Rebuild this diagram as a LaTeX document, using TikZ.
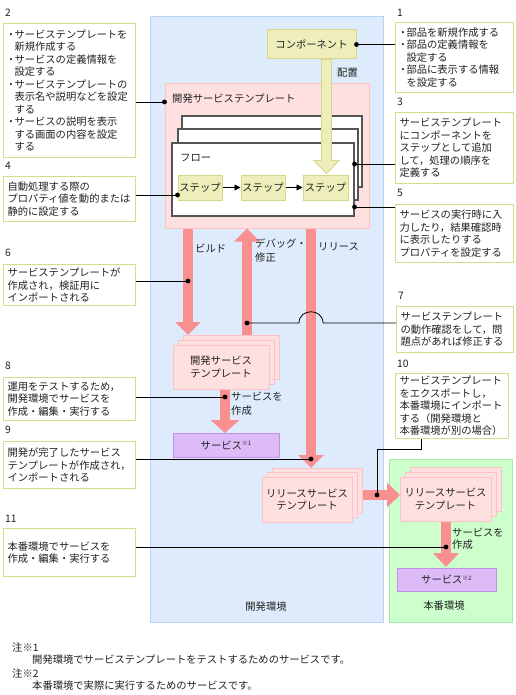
\documentclass[tikz,border=0pt]{standalone}
\usepackage{fontspec}
\setmainfont{Noto Sans CJK JP}
\usetikzlibrary{arrows.meta,calc}
\definecolor{bgblue}{HTML}{DDEBFC}
\definecolor{bgblueb}{HTML}{B6D3F3}
\definecolor{bggreen}{HTML}{CCFFCC}
\definecolor{bggreenb}{HTML}{A6EBA6}
\definecolor{pinkf}{HTML}{FFE0E0}
\definecolor{pinkb}{HTML}{FFC2C2}
\definecolor{redarr}{HTML}{FA8F8F}
\definecolor{yelf}{HTML}{EEEEBB}
\definecolor{yelb}{HTML}{D6D68C}
\definecolor{lilf}{HTML}{DDBBF8}
\definecolor{lilb}{HTML}{C490E6}
\definecolor{noteb}{HTML}{DADA8A}
\definecolor{frameb}{HTML}{555555}
\definecolor{txt}{HTML}{222222}
\newcommand\bul{\makebox[7pt][c]{・}}
\newcommand\ind{\hspace*{7pt}}
\newcommand\kome[1]{\raisebox{3.5pt}{\fontsize{6}{6}\selectfont ※#1}}
\tikzset{
  every node/.style={font=\fontsize{10.3}{12.5}\selectfont, text=txt, inner sep=0pt},
  envbox/.style={line width=1pt},
  note/.style={draw=noteb, fill=white, line width=1pt, align=left, anchor=north west, inner xsep=4pt, inner ysep=2pt},
  num/.style={anchor=west},
  yelbox/.style={draw=yelb, fill=yelf, line width=1pt},
  tmpl/.style={draw=pinkb, fill=pinkf, line width=1pt, align=center},
  frame/.style={draw=frameb, fill=white, line width=1.1pt},
  svc/.style={draw=lilb, fill=lilf, line width=1pt},
  redarrow/.style={draw=redarr, line width=10pt, -{Triangle[width=25pt,length=13pt]}},
  conn/.style={draw=black, line width=0.8pt},
  steparr/.style={draw=black, line width=0.8pt, -{Triangle[width=6pt,length=6pt]}},
}
\begin{document}
\begin{tikzpicture}[x=1pt,y=-1pt]
\path[fill=white,use as bounding box] (0,0) rectangle (515,695);
% environments
\node[envbox, draw=bgblueb, fill=bgblue, minimum width=233pt, minimum height=605pt] (devenv) at (266.5,319.5) {};
\node[envbox, draw=bggreenb, fill=bggreen, minimum width=123pt, minimum height=163pt] (prodenv) at (450.5,540.5) {};
\node (devlbl) at (266,607) {開発環境};
\node (prodlbl) at (444,606) {本番環境};
% component
\node[yelbox, minimum width=89pt, minimum height=29pt] (comp) at (311.5,44.5) {コンポーネント};
% dev service template box
\node[draw=pinkb, fill=pinkf, line width=1pt, minimum width=204pt, minimum height=144pt] (devbox) at (267,156) {};
\node[anchor=west] (devboxlbl) at (172,99) {開発サービステンプレート};
% flow frames
\node[frame, minimum width=180pt, minimum height=71pt] (fr3) at (272,151.5) {};
\node[frame, minimum width=180pt, minimum height=71pt] (fr2) at (268,164.5) {};
\node[frame, minimum width=182pt, minimum height=73pt] (fr1) at (263,179.5) {};
\node[anchor=west] (flowlbl) at (180,158) {フロー};
\node[yelbox, minimum width=44pt, minimum height=25pt] (s1) at (200,187.5) {ステップ};
\node[yelbox, minimum width=44pt, minimum height=25pt] (s2) at (263,187.5) {ステップ};
\node[yelbox, minimum width=45pt, minimum height=25pt] (s3) at (325.5,187.5) {ステップ};
\draw[steparr] (s1) -- (s2);
\draw[steparr] (s2) -- (s3);
% placement arrow
\coordinate (XA) at (326.5,0);
\filldraw[draw=yelb, fill=yelf, line width=0.9pt] (comp.south -| XA) ++(-5,0) -- ++(0,101) -- ++(-7.5,0) -- ++(12.5,13) -- ++(12.5,-13) -- ++(-7.5,0) -- ++(0,-101) -- cycle;
\node[anchor=west] (haichi) at (337,73) {配置};
% x / y guide coordinates
\coordinate (XB) at (188,0);
\coordinate (XD) at (247,0);
\coordinate (XR) at (311,0);
\coordinate (XS) at (225,0);
\coordinate (XG) at (446,0);
\coordinate (X10) at (377,0);
\coordinate (X10b) at (421,0);
\coordinate (YH) at (0,495);
\coordinate (Y2) at (0,102);
\coordinate (Y3) at (0,164);
\coordinate (Y4) at (0,195);
\coordinate (Y5) at (0,207);
\coordinate (Y6) at (0,281);
\coordinate (Y7) at (0,323);
\coordinate (Y8) at (0,397);
\coordinate (Y9) at (0,459);
\coordinate (Y10) at (0,449);
\coordinate (Y11) at (0,547);
% stacks (positions)
\coordinate (dsc) at (221,367);
\coordinate (rsc) at (307,499.5);
\coordinate (gsc) at (445.5,499);
% red arrows
\draw[redarrow] (devbox.south -| XB) -- (XB |- 0,335);
\draw[redarrow] (XD |- 0,337) -- (devbox.south -| XD);
\draw[redarrow] (devbox.south -| XR) -- (XR |- 0,468);
\draw[redarrow, -{Triangle[width=28pt,length=13pt]}] (XS |- 0,389) -- (XS |- 0,433);
\draw[redarrow, -{Triangle[width=24pt,length=13pt]}] (352,0 |- YH) -- (400,0 |- YH);
\draw[redarrow, -{Triangle[width=25pt,length=14pt]}] (XG |- 0,521) -- (XG |- 0,567);
% labels on arrows
\node[anchor=west] (lbuild) at (195,248) {ビルド};
\node[anchor=north west, align=left, font=\fontsize{10.3}{14}\selectfont] (ldebug) at (255,239) {デバッグ・\\修正};
\node[anchor=west] (lrel) at (318,247) {リリース};
% dev stack
\node[tmpl, minimum width=96pt, minimum height=44pt] (ds3) at ($(dsc)+(10,-10)$) {};
\node[tmpl, minimum width=96pt, minimum height=44pt] (ds2) at ($(dsc)+(5,-5)$) {};
\node[tmpl, minimum width=96pt, minimum height=44pt] (ds) at (dsc) {開発サービス\\テンプレート};
% release stack (dev env)
\node[tmpl, minimum width=90pt, minimum height=45pt] (rs3) at ($(rsc)+(10,-9)$) {};
\node[tmpl, minimum width=90pt, minimum height=45pt] (rs2) at ($(rsc)+(5,-4.5)$) {};
\node[tmpl, minimum width=90pt, minimum height=45pt] (rs) at (rsc) {リリースサービス\\テンプレート};
% release stack (prod env)
\node[tmpl, minimum width=91pt, minimum height=44pt] (gs3) at ($(gsc)+(10,-10)$) {};
\node[tmpl, minimum width=91pt, minimum height=44pt] (gs2) at ($(gsc)+(5,-5)$) {};
\node[tmpl, minimum width=91pt, minimum height=44pt] (gs) at (gsc) {リリースサービス\\テンプレート};
% services
\node[svc, minimum width=106pt, minimum height=24pt] (sv1) at (226,445) {サービス\kome{1}};
\node[svc, minimum width=99pt, minimum height=23pt] (sv2) at (446.5,579.5) {サービス\kome{2}};
\node[anchor=north west, align=left, font=\fontsize{10.3}{14}\selectfont] (mk1) at (231,392) {サービスを\\作成};
\node[anchor=north west, align=left, font=\fontsize{10.3}{12.5}\selectfont] (mk2) at (452,527.5) {サービスを\\作成};
% notes
\node[num] (k1) at (397,13) {1};
\node[note, text width=110pt, minimum height=70pt] (n1) at (395,22) {\bul 部品を新規作成する\\\bul 部品の定義情報を\\\ind 設定する\\\bul 部品に表示する情報\\\ind を設定する};
\node[num] (k2) at (5,13) {2};
\node[note, text width=124pt, minimum height=134pt] (n2) at (3,23) {\bul サービステンプレートを\\\ind 新規作成する\\\bul サービスの定義情報を\\\ind 設定する\\\bul サービステンプレートの\\\ind 表示名や説明などを設定\\\ind する\\\bul サービスの説明を表示\\\ind する画面の内容を設定\\\ind する};
\node[num] (k3) at (397,102) {3};
\node[note, text width=110pt, minimum height=71pt] (n3) at (395,112) {サービステンプレート\\にコンポーネントを\\ステップとして追加\\して，処理の順序を\\定義する};
\node[num] (k4) at (5,166) {4};
\node[note, text width=124pt, minimum height=45pt] (n4) at (3,176) {自動処理する際の\\プロパティ値を動的または\\静的に設定する};
\node[num] (k5) at (397,193) {5};
\node[note, text width=110pt, minimum height=58pt] (n5) at (395,204) {サービスの実行時に入\\力したり，結果確認時\\に表示したりする\\プロパティを設定する};
\node[num] (k6) at (5,253) {6};
\node[note, text width=124pt, minimum height=41pt] (n6) at (3,264) {サービステンプレートが\\作成され，検証用に\\インポートされる};
\node[num] (k7) at (398,296) {7};
\node[note, text width=109pt, minimum height=46pt] (n7) at (396,306) {サービステンプレート\\の動作確認をして，問\\題点があれば修正する};
\node[num] (k8) at (5,366) {8};
\node[note, text width=124pt, minimum height=43pt] (n8) at (3,377) {運用をテストするため，\\開発環境でサービスを\\作成・編集・実行する};
\node[num] (k9) at (5,430) {9};
\node[note, text width=124pt, minimum height=47pt] (n9) at (3,441) {開発が完了したサービス\\テンプレートが作成され，\\インポートされる};
\node[num] (k10) at (397,364) {10};
\node[note, text width=105pt, minimum height=65pt] (n10) at (395,373) {サービステンプレート\\をエクスポートし，\\本番環境にインポート\\する（開発環境と\\本番環境が別の場合）};
\node[num] (k11) at (5,519) {11};
\node[note, text width=124pt, minimum height=48pt] (n11) at (3,528) {本番環境でサービスを\\作成・編集・実行する};
% connectors
\draw[conn] (comp.east) -- (comp.east -| n1.west);
\fill (comp.east) circle[radius=2.4pt];
\draw[conn] (n2.east |- Y2) -- (devbox.west |- Y2);
\fill (devbox.west |- Y2) circle[radius=2.4pt];
\draw[conn] (fr1.east |- Y3) -- (n3.west |- Y3);
\fill (fr1.east |- Y3) circle[radius=2.4pt];
\draw[conn] (n4.east |- Y4) -- (s1.west |- Y4);
\fill (s1.west |- Y4) circle[radius=2.4pt];
\draw[conn] (fr1.east |- Y5) -- (n5.west |- Y5);
\fill (fr1.east |- Y5) circle[radius=2.4pt];
\draw[conn] (n6.east |- Y6) -- (XB |- Y6);
\fill (XB |- Y6) circle[radius=2.4pt];
\draw[conn] (XD |- Y7) -- ($(XR |- Y7)+(-12,0)$) .. controls +(0,-15) and +(0,-15) .. ($(XR |- Y7)+(12,0)$) -- (n7.west |- Y7);
\fill (XD |- Y7) circle[radius=2.4pt];
\draw[conn] (n8.east |- Y8) -- (XS |- Y8);
\fill (XS |- Y8) circle[radius=2.4pt];
\draw[conn] (n9.east |- Y9) -- (XR |- Y9);
\fill (XR |- Y9) circle[radius=2.4pt];
\draw[conn] (X10 |- YH) -- (X10 |- Y10) -- (X10b |- Y10) -- (n10.south -| X10b);
\fill (X10 |- YH) circle[radius=2.4pt];
\draw[conn] (n11.east |- Y11) -- (XG |- Y11);
\fill (XG |- Y11) circle[radius=2.4pt];
% footnotes
\node[anchor=west] (fn1) at (12,647) {注※1};
\node[anchor=west] (fn1t) at (32,660) {開発環境でサービステンプレートをテストするためのサービスです。};
\node[anchor=west] (fn2) at (12,673) {注※2};
\node[anchor=west] (fn2t) at (32,686) {本番環境で実際に実行するためのサービスです。};
\end{tikzpicture}
\end{document}
